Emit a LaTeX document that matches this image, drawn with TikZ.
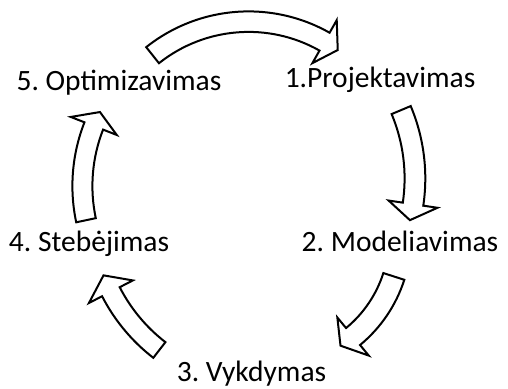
\documentclass[tikz,border=0pt]{standalone}
\usepackage{fontspec}
\setmainfont{Carlito}
\frenchspacing
% curved block arrow: centre x, centre y, inner radius, outer radius,
% tail angle, head-base angle, tip angle
\newcommand\cyclearrow[7]{%
  \begin{scope}[shift={(#1,#2)}]
    \pgfmathsetmacro\rmid{(#3+#4)/2}
    \pgfmathsetmacro\rbarbout{\rmid+24.7}
    \pgfmathsetmacro\rbarbin{\rmid-24.7}
    \draw[blockarrow] (#5:#4) arc[start angle=#5, end angle=#6, radius=#4]
      -- (#6:\rbarbout) -- (#7:\rmid) -- (#6:\rbarbin) -- (#6:#3)
      arc[start angle=#6, end angle=#5, radius=#3] -- cycle;
  \end{scope}}
\begin{document}
\begin{tikzpicture}[x=1pt,y=-1pt,
  stage/.style={font=\fontsize{29.5}{35}\selectfont, inner sep=0pt, anchor=base},
  blockarrow/.style={draw=black, fill=white, line width=2pt, line join=miter}]
\useasboundingbox (0,0) rectangle (508,388);

% stages of the cycle
\node[stage] (s1) at (380,87) {1.Projektavimas};
\node[stage] (s2) at (400,251) {2. Modeliavimas};
\node[stage] (s3) at (251.5,381) {3. Vykdymas};
\node[stage] (s4) at (89,251) {4. Stebėjimas};
\node[stage] (s5) at (119,90) {5. Optimizavimas};

% arrows between the stages, clockwise
\cyclearrow{248.6}{175.9}{144}{164.5}{-128.5}{-60.5}{-54.7}
\cyclearrow{238.6}{178.4}{166}{186.7}{-22.8}{8.4}{13.7}
\cyclearrow{271}{237}{118}{140}{17.8}{50.5}{57.4}
\cyclearrow{266}{212}{164.5}{184.3}{127.7}{152.8}{158.7}
\cyclearrow{247}{186}{154.6}{174.6}{168}{201.4}{206.7}
\end{tikzpicture}
\end{document}
